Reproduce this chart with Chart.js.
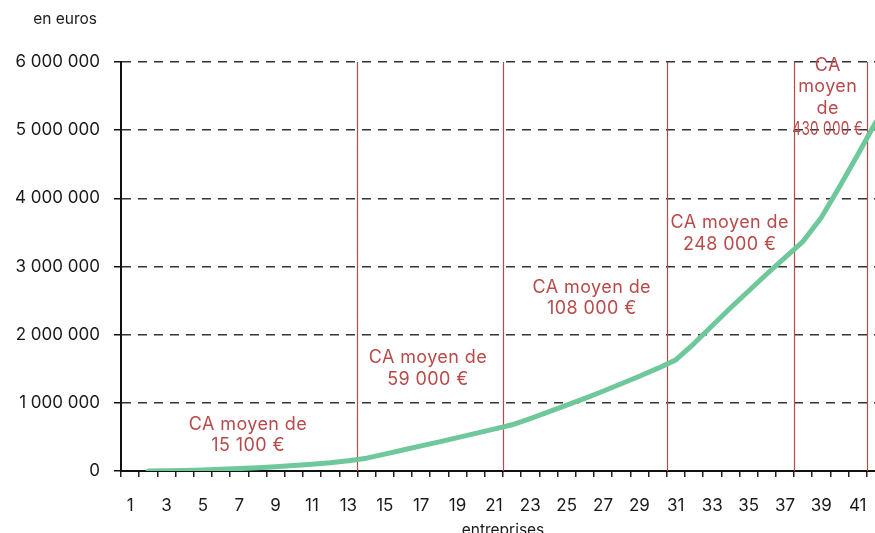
<!DOCTYPE html>
<html lang="fr">
  <head>
    <meta charset="UTF-8" />
    <title>Chiffre d'affaires cumulé des entreprises</title>
    <script src="https://cdn.jsdelivr.net/npm/chart.js@4.4.1/dist/chart.umd.min.js"></script>
    <style>
      html,
      body {
        margin: 0;
        padding: 0;
        background: #ffffff;
        overflow: hidden;
      }

      .chart-container {
        position: relative;
        width: 890px;
        height: 545px;
      }
    </style>
  </head>
  <body>
    <div class="chart-container">
      <canvas id="caChart"></canvas>
    </div>

    <script>
      // entreprises (axe des x)
      const categories = [
        "1", "2", "3", "4", "5", "6", "7", "8", "9", "10", "11", "12", "13", "14",
        "15", "16", "17", "18", "19", "20", "21", "22", "23", "24", "25", "26", "27", "28",
        "29", "30", "31", "32", "33", "34", "35", "36", "37", "38", "39", "40", "41", "42",
      ];

      // CA cumulé, en euros
      const cumulCA = [
        null, 0, 3000, 8000, 15000, 24000, 35000, 48000, 63000, 80000, 100000, 122000, 150000, 188000,
        248000, 308000, 368000, 428000, 490000, 552000, 615000, 678000, 770000, 868000, 965000, 1065000, 1170000, 1280000,
        1390000, 1505000, 1630000, 1870000, 2130000, 2390000, 2640000, 2890000, 3130000, 3370000, 3720000, 4170000, 4640000, 5120000,
      ];

      const yMax = 6000000;
      const yStep = 1000000;

      // limites entre groupes (entre deux entreprises)
      const groupLimits = [13.5, 21.5, 30.5, 37.5, 41.5];

      // étiquettes des groupes
      const groupLabels = [
        ["CA moyen de", "15 100 €"],
        ["CA moyen de", "59 000 €"],
        ["CA moyen de", "108 000 €"],
        ["CA moyen de", "248 000 €"],
        ["CA", "moyen", "de", "430 000 €"],
      ];
      const groupLabelX = [7.48, 17.37, 26.38, 33.96, 39.35];
      const groupLabelY = [530000, 1505000, 2540000, 3485000, 5480000];

      const red = "#b94a4a";
      const ink = "#1a1a1a";

      Chart.defaults.font.family = "Inter, 'Noto Sans', sans-serif";

      const fmt = (v) => String(v).replace(/\B(?=(\d{3})+(?!\d))/g, " ");

      const groupsPlugin = {
        id: "groups",
        beforeDatasetsDraw(chart) {
          const { ctx, chartArea, scales } = chart;
          ctx.save();
          ctx.strokeStyle = red;
          ctx.lineWidth = 1.2;
          groupLimits.forEach((v) => {
            const x = Math.round(scales.x.getPixelForValue(v - 1)) + 0.5;
            ctx.beginPath();
            ctx.moveTo(x, chartArea.top);
            ctx.lineTo(x, chartArea.bottom);
            ctx.stroke();
          });
          ctx.restore();
        },
        afterDatasetsDraw(chart) {
          const { ctx, chartArea, scales } = chart;
          ctx.save();
          ctx.fillStyle = red;
          ctx.font = "18px Inter, 'Noto Sans', sans-serif";
          ctx.letterSpacing = "0.4px";
          ctx.textAlign = "center";
          ctx.textBaseline = "middle";
          const lh = 21.5;
          groupLabels.forEach((lines, i) => {
            const x = scales.x.getPixelForValue(groupLabelX[i] - 1);
            const yc = scales.y.getPixelForValue(groupLabelY[i]);
            const left = i === 0 ? chartArea.left : scales.x.getPixelForValue(groupLimits[i - 1] - 1);
            const right = scales.x.getPixelForValue(groupLimits[i] - 1);
            const maxW = right - left - 2;
            lines.forEach((t, j) => {
              const y = yc + (j - (lines.length - 1) / 2) * lh;
              ctx.fillText(t, x, y, maxW);
            });
          });
          ctx.letterSpacing = "0px";
          ctx.restore();

          // unité en haut à gauche
          ctx.save();
          ctx.fillStyle = ink;
          ctx.font = "15.5px Inter, 'Noto Sans', sans-serif";
          ctx.textAlign = "right";
          ctx.textBaseline = "middle";
          ctx.fillText("en euros", chartArea.left - 24, chartArea.top - 43);
          ctx.restore();
        },
      };

      new Chart(document.getElementById("caChart"), {
        type: "line",
        data: {
          labels: categories,
          datasets: [
            {
              label: "CA cumulé",
              data: cumulCA,
              borderColor: "#6fc89b",
              borderWidth: 5,
              borderCapStyle: "round",
              borderJoinStyle: "round",
              pointRadius: 0,
              tension: 0,
              fill: false,
            },
          ],
        },
        options: {
          responsive: true,
          maintainAspectRatio: false,
          animation: false,
          layout: { padding: { top: 62, right: 5, bottom: 0, left: 0 } },
          plugins: {
            legend: { display: false },
            tooltip: { enabled: false },
          },
          scales: {
            x: {
              offset: true,
              grid: {
                offset: true,
                drawOnChartArea: false,
                drawTicks: true,
                tickLength: 6,
                lineWidth: 1.5,
                color: "#222",
              },
              border: { color: "#111", width: 2 },
              ticks: {
                autoSkip: false,
                maxRotation: 0,
                padding: 19,
                color: ink,
                font: { size: 17 },
                callback: (v, i) => (i % 2 === 0 ? categories[i] : ""),
              },
              title: {
                display: true,
                text: "entreprises",
                color: ink,
                font: { size: 15.5 },
                padding: { top: 0, bottom: 5 },
              },
              afterFit: (s) => {
                s.height = 74;
                s.paddingLeft = 0;
                s.paddingRight = 0;
              },
            },
            y: {
              min: 0,
              max: yMax,
              ticks: {
                stepSize: yStep,
                padding: 14,
                color: ink,
                font: { size: 17 },
                callback: (v) => fmt(v),
              },
              grid: {
                color: "#333",
                lineWidth: 1.5,
                tickLength: 7,
                tickColor: "#111",
                tickBorderDash: [],
              },
              border: { color: "#111", width: 2, dash: [9, 7] },
              afterFit: (s) => {
                s.width = 121;
              },
            },
          },
        },
        plugins: [groupsPlugin],
      });
    </script>
  </body>
</html>
